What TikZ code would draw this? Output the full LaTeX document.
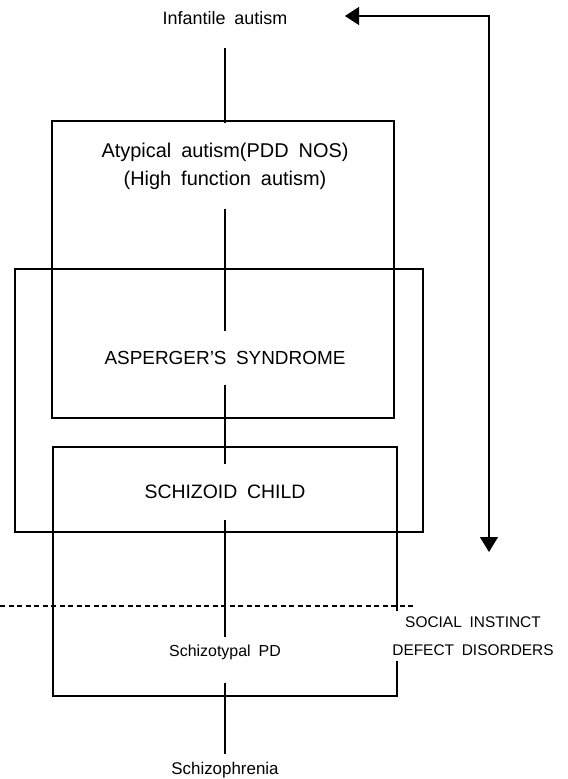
\documentclass[tikz,border=0pt]{standalone}
\usepackage{fontspec}
\setmainfont{Liberation Sans}[WordSpace=1.8]
\usetikzlibrary{arrows.meta}
\tikzset{
  txt/.style={inner sep=0pt, align=center},
  big/.style={txt, font=\fontsize{19}{28}\selectfont},
  small/.style={txt, font=\fontsize{15}{28}\selectfont},
  dashline/.style={dash pattern=on 5bp off 3.5bp},
  twotip/.style={{Triangle[length=14bp,width=18bp]}-{Triangle[length=15bp,width=18bp]}}
}
\begin{document}
\begin{tikzpicture}[x=1bp,y=-1bp,line width=1.1pt]
\useasboundingbox (0,0) rectangle (568,779);
% the three boxes and the border line
\draw (52,121) rectangle (394,418);
\draw (15,269) rectangle (423,532);
\draw (53,447) rectangle (397,696);
\draw[dashline] (0,606) -- (413,606);
% labels on the centre line
\node[big, font=\fontsize{18}{20}\selectfont, minimum height=58bp] (infant) at (225,18) {Infantile autism};
\node[big, font=\fontsize{20}{28}\selectfont, minimum height=85bp] (atyp) at (225,166) {Atypical autism(PDD NOS)\\(High function autism)};
\node[big, minimum height=53bp] (asp) at (225,358) {ASPERGER'S SYNDROME};
\node[big, font=\fontsize{19.5}{28}\selectfont, minimum height=54bp] (schizoid) at (225,492) {SCHIZOID CHILD};
\node[small, font=\fontsize{16}{20}\selectfont, minimum height=28bp] (stpd) at (225,652) {Schizotypal PD};
\node[small, font=\fontsize{17}{20}\selectfont, minimum height=30bp] (schizo) at (225,770) {Schizophrenia};
\node[small, font=\fontsize{15.5}{28}\selectfont, fill=white, inner xsep=2bp, inner ysep=6bp] (sidsd) at (473,636) {SOCIAL INSTINCT\\DEFECT DISORDERS};
% centre line
\draw (infant) -- (atyp);
\draw (atyp) -- (asp);
\draw (asp) -- (schizoid);
\draw (schizoid) -- (stpd);
\draw[shorten <=16bp] (stpd) -- (schizo);
% return arrow
\coordinate (backtip) at (345,16);
\coordinate (corner) at (489,16);
\coordinate (downtip) at (489,552);
\draw[twotip] (backtip) -- (corner) -- (downtip);
\end{tikzpicture}
\end{document}
